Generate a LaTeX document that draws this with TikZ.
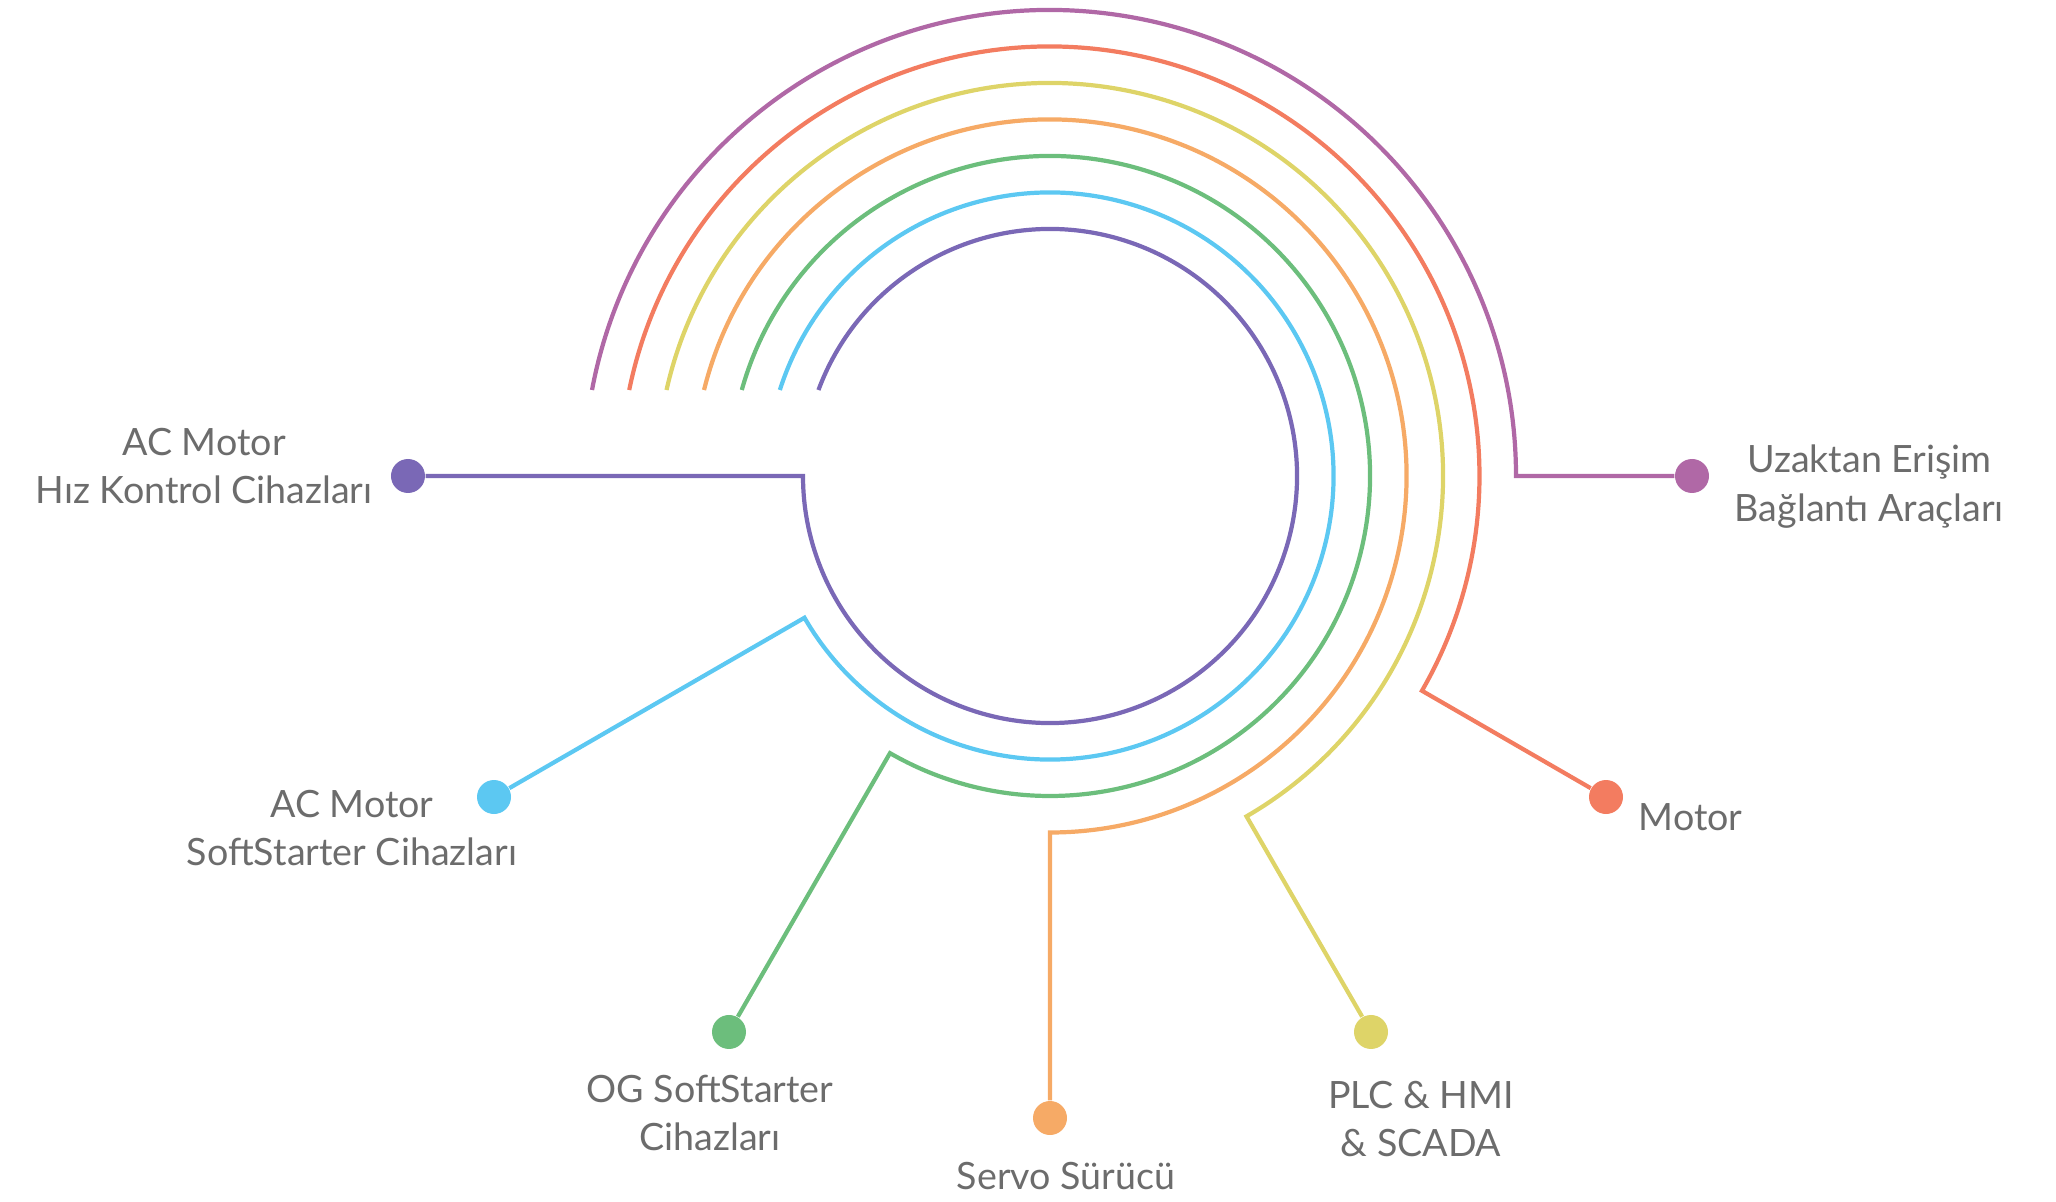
\documentclass[tikz,border=0pt]{standalone}
\usepackage{fontspec}
\setmainfont{Lato}
\usepackage{tikz}
\usetikzlibrary{positioning}
\definecolor{lilac}{RGB}{122,104,182}
\definecolor{sky}{RGB}{92,200,242}
\definecolor{leaf}{RGB}{108,190,124}
\definecolor{peach}{RGB}{246,170,102}
\definecolor{lemon}{RGB}{222,212,104}
\definecolor{coral}{RGB}{243,124,96}
\definecolor{plum}{RGB}{176,104,166}
\definecolor{caption}{RGB}{108,108,108}

\begin{document}
\begin{tikzpicture}[
    ring/.style={line width=1.2pt, draw=#1},
    dot/.style={circle, fill=#1, inner sep=0pt, minimum size=0.34cm},
    caption/.style={text=caption, align=center, inner sep=0pt, font=\fontsize{10.7}{13.9}\selectfont}
  ]
  \useasboundingbox (-10.5,-7.25) rectangle (10.06,4.76);

  % dots, all on one circle round the rings
  \node (hiz) [dot=lilac] at (180:6.42) {};
  \node (acsoft) [dot=sky] at (-150:6.42) {};
  \node (ogsoft) [dot=leaf] at (-120:6.42) {};
  \node (servo) [dot=peach] at (-90:6.42) {};
  \node (plc) [dot=lemon] at (-60:6.42) {};
  \node (motor) [dot=coral] at (-30:6.42) {};
  \node (uzak) [dot=plum] at (0:6.42) {};

  % labels
  \node (hizL) [caption, left=0.17cm of hiz, yshift=0.1cm] {AC Motor\\Hız Kontrol Cihazları};
  \node (acsoftL) [caption, xshift=-1.42cm, yshift=-0.31cm] at (acsoft) {AC Motor\\SoftStarter Cihazları};
  \node (ogsoftL) [caption, xshift=-0.19cm, yshift=-0.81cm] at (ogsoft) {OG SoftStarter\\Cihazları};
  \node (servoL) [caption, xshift=0.16cm, yshift=-0.58cm] at (servo) {Servo Sürücü};
  \node (plcL) [caption, xshift=0.5cm, yshift=-0.87cm] at (plc) {PLC \& HMI\\\& SCADA};
  \node (motorL) [caption, right=0.145cm of motor, yshift=-0.2cm] {Motor};
  \node (uzakL) [caption, right=0.245cm of uzak, yshift=-0.11cm] {Uzaktan Erişim\\Bağlantı Araçları};

  % rings start on the line y=0.86 and run clockwise to their dot
  \coordinate (hizS) at ({180-asin(0.86/2.47)}:2.47);
  \coordinate (acsoftS) at ({180-asin(0.86/2.835)}:2.835);
  \coordinate (ogsoftS) at ({180-asin(0.86/3.2)}:3.2);
  \coordinate (servoS) at ({180-asin(0.86/3.565)}:3.565);
  \coordinate (plcS) at ({180-asin(0.86/3.93)}:3.93);
  \coordinate (motorS) at ({180-asin(0.86/4.295)}:4.295);
  \coordinate (uzakS) at ({180-asin(0.86/4.66)}:4.66);

  \draw[ring=lilac] (hizS) arc[start angle={180-asin(0.86/2.47)}, end angle=-180, radius=2.47cm] -- (hiz);
  \draw[ring=sky] (acsoftS) arc[start angle={180-asin(0.86/2.835)}, end angle=-150, radius=2.835cm] -- (acsoft);
  \draw[ring=leaf] (ogsoftS) arc[start angle={180-asin(0.86/3.2)}, end angle=-120, radius=3.2cm] -- (ogsoft);
  \draw[ring=peach] (servoS) arc[start angle={180-asin(0.86/3.565)}, end angle=-90, radius=3.565cm] -- (servo);
  \draw[ring=lemon] (plcS) arc[start angle={180-asin(0.86/3.93)}, end angle=-60, radius=3.93cm] -- (plc);
  \draw[ring=coral] (motorS) arc[start angle={180-asin(0.86/4.295)}, end angle=-30, radius=4.295cm] -- (motor);
  \draw[ring=plum] (uzakS) arc[start angle={180-asin(0.86/4.66)}, end angle=0, radius=4.66cm] -- (uzak);
\end{tikzpicture}
\end{document}
